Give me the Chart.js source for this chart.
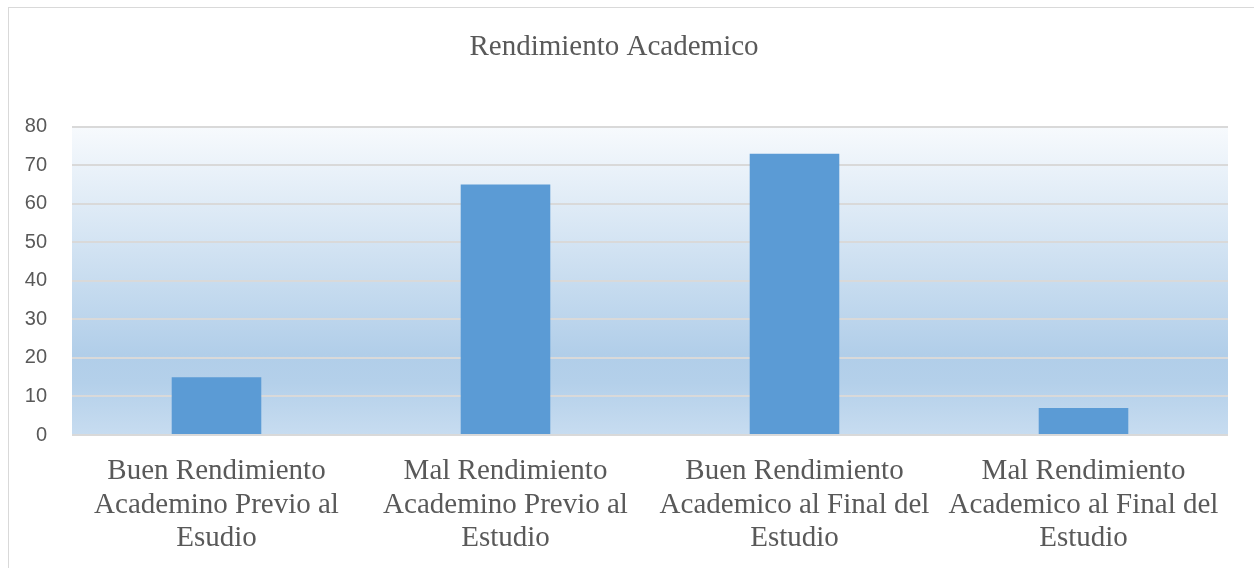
<!DOCTYPE html>
<html>
<head>
<meta charset="utf-8">
<script src="https://cdn.jsdelivr.net/npm/chart.js@4"></script>
<style>
  html, body { margin: 0; padding: 0; background: #fff; overflow: hidden; }
  #wrap { position: relative; width: 1254px; height: 568px; }
  #frame { position: absolute; left: 8px; top: 7px; width: 1300px; height: 700px; border: 1px solid #d9d9d9; box-sizing: border-box; }
  canvas { position: absolute; left: 0; top: 0; }
</style>
</head>
<body>
<div id="wrap">
  <div id="frame"></div>
  <canvas id="chart" width="1254" height="568"></canvas>
</div>
<script>
// chart data
const chartTitle = 'Rendimiento Academico';
const categories = [
    ['Buen Rendimiento', 'Academino Previo al', 'Esudio'],
    ['Mal Rendimiento', 'Academino Previo al', 'Estudio'],
    ['Buen Rendimiento', 'Academico al Final del', 'Estudio'],
    ['Mal Rendimiento', 'Academico al Final del', 'Estudio']
];
const values = [15, 65, 73, 7];
const yTicks = [0, 10, 20, 30, 40, 50, 60, 70, 80];

// fills the plot area with the light blue gradient
const plotBackground = {
    id: 'plotBackground',
    beforeDraw(chart) {
        const { ctx, chartArea: a } = chart;
        const g = ctx.createLinearGradient(0, a.top, 0, a.bottom);
        g.addColorStop(0, '#f7fafd');
        g.addColorStop(0.74, '#b1cee9');
        g.addColorStop(0.83, '#b4d0ea');
        g.addColorStop(1, '#c7dcf0');
        ctx.save();
        ctx.fillStyle = g;
        ctx.fillRect(a.left, a.top, a.right - a.left, a.bottom - a.top);
        ctx.restore();
    }
};

const serif = '"Liberation Serif", "Times New Roman", serif';

const ctx = document.getElementById('chart').getContext('2d');
new Chart(ctx, {
    type: 'bar',
    data: {
        labels: categories,
        datasets: [{
            data: values,
            backgroundColor: '#5b9bd5',
            barPercentage: 0.31,
            categoryPercentage: 1
        }]
    },
    options: {
        responsive: false,
        animation: false,
        layout: { padding: { left: 0, right: 26, top: 0, bottom: 0 } },
        plugins: {
            legend: { display: false },
            tooltip: { enabled: false },
            title: {
                display: true,
                text: chartTitle,
                color: '#595959',
                font: { family: serif, size: 29, weight: 'normal', lineHeight: 1.2 },
                padding: { top: 30, bottom: 62 }
            }
        },
        scales: {
            x: {
                afterFit(scale) {
                    scale.height = 133;
                },
                grid: { display: false, drawTicks: false },
                border: { display: false },
                ticks: {
                    color: '#595959',
                    maxRotation: 0,
                    autoSkip: false,
                    padding: 20,
                    font: { family: serif, size: 29, lineHeight: 1.155 }
                }
            },
            y: {
                min: 0,
                max: 80,
                afterBuildTicks(scale) {
                    scale.ticks = yTicks.map(v => ({ value: v }));
                },
                afterFit(scale) {
                    scale.width = 72;
                },
                grid: { color: '#d9d9d9', lineWidth: 2, drawTicks: false },
                border: { display: false },
                ticks: {
                    color: '#595959',
                    padding: 25,
                    font: { family: '"Liberation Sans", Arial, sans-serif', size: 20 }
                }
            }
        }
    },
    plugins: [plotBackground]
});
</script>
</body>
</html>
